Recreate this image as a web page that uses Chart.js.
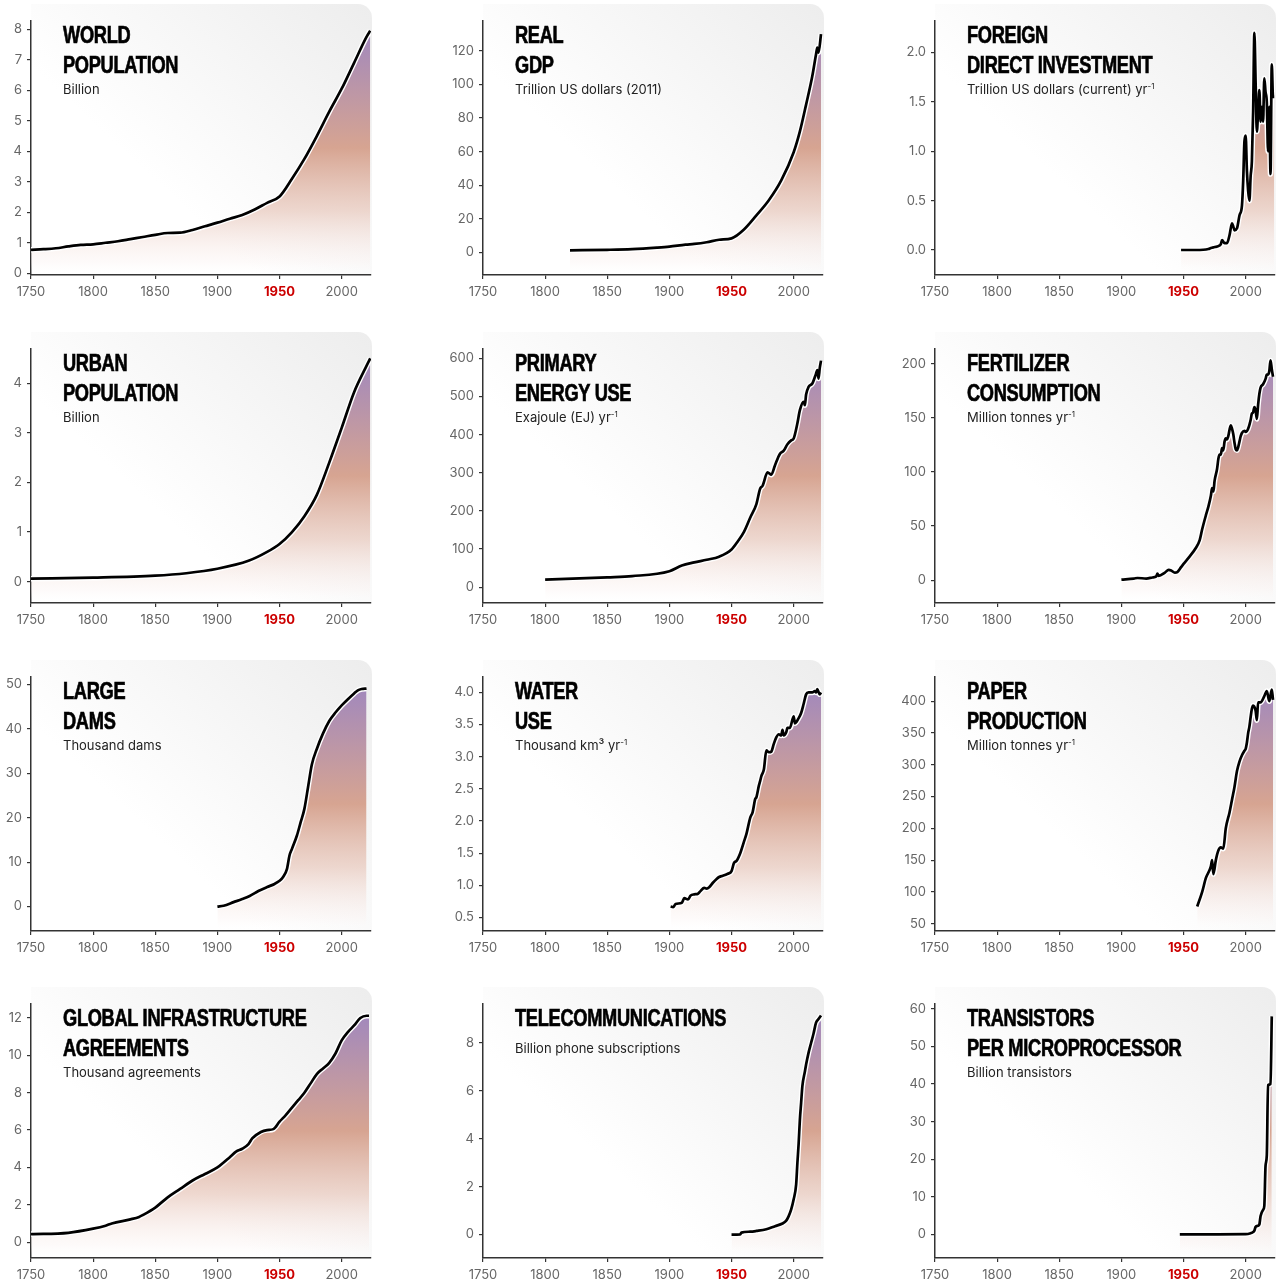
<!DOCTYPE html>
<html>
<head>
<meta charset="utf-8">
<script src="https://cdn.jsdelivr.net/npm/chart.js@4.4.1/dist/chart.umd.min.js"></script>
<style>
body{margin:0;background:#fff;width:1277px;height:1281px;overflow:hidden;position:relative;font-family:Inter,sans-serif}
canvas{position:absolute}
.ttl{position:absolute;font-family:"Liberation Sans",Arial,sans-serif;font-weight:bold;font-size:24px;line-height:30px;color:#000;letter-spacing:-0.4px;white-space:nowrap;transform:scaleX(0.76);transform-origin:0 0;-webkit-text-stroke:0.7px #000}
.sub{position:absolute;font-family:Inter,sans-serif;font-size:13px;line-height:16px;color:#222;white-space:nowrap}
.sub sup{font-size:8px;line-height:0}
</style>
</head>
<body>
<script>
// ---- data ----
var xTickLabels = ['1750', '1800', '1850', '1900', '1950', '2000'];

var popYears  = [1750, 1760, 1770, 1780, 1790, 1800, 1810, 1820, 1830, 1840, 1850, 1860, 1870, 1880, 1890, 1900, 1910, 1920, 1930, 1940, 1950, 1960, 1970, 1980, 1990, 2000, 2010, 2020, 2023];
var popValues = [0.77, 0.79, 0.82, 0.88, 0.93, 0.95, 1.0, 1.05, 1.12, 1.19, 1.26, 1.32, 1.33, 1.42, 1.54, 1.66, 1.79, 1.91, 2.09, 2.31, 2.52, 3.1, 3.75, 4.5, 5.3, 6.05, 6.9, 7.75, 7.95];
var popTicks  = ['0', '1', '2', '3', '4', '5', '6', '7', '8'];

var gdpYears  = [1820, 1850, 1870, 1890, 1900, 1913, 1920, 1930, 1940, 1950, 1960, 1970, 1980, 1990, 2000, 2005, 2010, 2015, 2018, 2019, 2020, 2022];
var gdpValues = [1.2, 1.5, 1.9, 2.8, 3.4, 4.6, 5.0, 6.0, 7.5, 8.3, 13.6, 22, 31, 42.8, 59.6, 72, 88, 105, 118, 122, 119, 130];
var gdpTicks  = ['0', '20', '40', '60', '80', '100', '120'];

var fdiYears  = [1948, 1960, 1970, 1972, 1975, 1978, 1980, 1981, 1983, 1985, 1987, 1989, 1990, 1991, 1993, 1995, 1997, 1998, 1999, 2000, 2001, 2002, 2003, 2004, 2005, 2006, 2007, 2008, 2009, 2010, 2011, 2012, 2013, 2014, 2015, 2016, 2017, 2018, 2019, 2020, 2021, 2022, 2023];
var fdiValues = [0, 0, 0.01, 0.02, 0.03, 0.04, 0.06, 0.1, 0.07, 0.07, 0.15, 0.27, 0.24, 0.2, 0.22, 0.35, 0.45, 0.7, 1.1, 1.16, 0.8, 0.6, 0.5, 0.75, 0.9, 1.4, 2.2, 1.7, 1.2, 1.4, 1.62, 1.3, 1.45, 1.3, 1.74, 1.6, 1.5, 1.0, 1.45, 0.77, 1.88, 1.55, 1.55];
var fdiTicks  = ['0.0', '0.5', '1.0', '1.5', '2.0'];

var urbanYears  = [1750, 1800, 1850, 1875, 1900, 1925, 1940, 1950, 1960, 1970, 1980, 1990, 2000, 2010, 2020, 2023];
var urbanValues = [0.06, 0.08, 0.12, 0.17, 0.26, 0.42, 0.6, 0.76, 1.0, 1.32, 1.75, 2.4, 3.1, 3.82, 4.35, 4.5];
var urbanTicks  = ['0', '1', '2', '3', '4'];

var energyYears  = [1800, 1850, 1870, 1900, 1910, 1920, 1930, 1940, 1950, 1955, 1960, 1965, 1970, 1973, 1975, 1979, 1982, 1985, 1989, 1992, 1995, 1998, 2000, 2003, 2005, 2008, 2009, 2010, 2012, 2015, 2018, 2019, 2020, 2021, 2022];
var energyValues = [20, 26, 29, 42, 57, 65, 72, 80, 99, 120, 145, 182, 218, 258, 266, 301, 295, 320, 350, 358, 375, 385, 390, 430, 464, 486, 477, 505, 525, 534, 560, 569, 547, 575, 594];
var energyTicks  = ['0', '100', '200', '300', '400', '500', '600'];

var fertYears  = [1900, 1910, 1913, 1920, 1925, 1928, 1929, 1930, 1935, 1938, 1940, 1943, 1945, 1948, 1950, 1955, 1960, 1963, 1965, 1968, 1970, 1972, 1973, 1974, 1975, 1977, 1978, 1979, 1980, 1981, 1982, 1983, 1984, 1985, 1986, 1988, 1989, 1990, 1991, 1992, 1993, 1994, 1995, 1996, 1997, 1999, 2000, 2002, 2004, 2005, 2006, 2007, 2008, 2009, 2010, 2011, 2012, 2014, 2016, 2017, 2018, 2019, 2020, 2021, 2022];
var fertValues = [0.5, 1.5, 2, 1.5, 2.5, 3.5, 6, 4, 7, 9.5, 9, 7, 7.5, 12, 15, 22, 30, 37, 47, 60, 68, 78, 85, 82, 92, 103, 112, 116, 116, 122, 120, 128, 131, 130, 133, 143, 140, 135, 127, 121, 120, 123, 128, 133, 136, 138, 137, 140, 148, 154, 155, 160, 157, 149, 162, 172, 178, 181, 186, 190, 190, 193, 203, 195, 188];
var fertTicks  = ['0', '50', '100', '150', '200'];

var damYears  = [1900, 1905, 1913, 1920, 1926, 1933, 1940, 1946, 1950, 1953, 1956, 1958, 1960, 1964, 1967, 1970, 1973, 1976, 1980, 1985, 1990, 1995, 2000, 2005, 2010, 2013, 2016, 2020];
var damValues = [0, 0.2, 1.0, 1.7, 2.4, 3.5, 4.4, 5.1, 5.8, 6.7, 8.5, 11.5, 13, 16, 19, 22, 27, 32, 35.5, 39, 41.8, 43.7, 45.3, 46.7, 48, 48.7, 49, 49.1];
var damTicks  = ['0', '10', '20', '30', '40', '50'];

var waterYears  = [1901, 1903, 1905, 1910, 1912, 1915, 1917, 1920, 1923, 1925, 1928, 1930, 1932, 1935, 1938, 1940, 1943, 1947, 1950, 1952, 1954, 1957, 1960, 1962, 1965, 1967, 1969, 1970, 1972, 1973, 1974, 1976, 1978, 1980, 1982, 1984, 1986, 1988, 1990, 1991, 1992, 1994, 1995, 1997, 2000, 2001, 2004, 2006, 2008, 2010, 2012, 2015, 2017, 2018, 2019, 2021, 2022];
var waterValues = [0.67, 0.66, 0.71, 0.73, 0.8, 0.78, 0.84, 0.86, 0.87, 0.91, 0.96, 0.95, 0.97, 1.04, 1.1, 1.13, 1.15, 1.18, 1.22, 1.35, 1.38, 1.5, 1.68, 1.8, 2.05, 2.14, 2.34, 2.37, 2.55, 2.62, 2.7, 2.8, 3.1, 3.07, 3.08, 3.2, 3.3, 3.35, 3.33, 3.42, 3.33, 3.38, 3.45, 3.45, 3.63, 3.52, 3.6, 3.68, 3.82, 3.97, 4.0, 4.0, 4.02, 4.0, 4.05, 3.97, 4.0];
var waterTicks  = ['0.5', '1.0', '1.5', '2.0', '2.5', '3.0', '3.5', '4.0'];

var paperYears  = [1961, 1965, 1968, 1972, 1973, 1974, 1976, 1978, 1980, 1982, 1984, 1987, 1989, 1991, 1993, 1995, 1997, 1999, 2000, 2001, 2002, 2003, 2004, 2005, 2006, 2008, 2009, 2010, 2012, 2015, 2017, 2019, 2021, 2022];
var paperValues = [77, 100, 122, 140, 150, 128, 150, 165, 170, 168, 200, 225, 245, 265, 290, 305, 315, 322, 325, 335, 350, 360, 375, 388, 393, 385, 370, 398, 398, 408, 416, 400, 418, 402];
var paperTicks  = ['50', '100', '150', '200', '250', '300', '350', '400'];

var infraYears  = [1750, 1780, 1800, 1810, 1815, 1830, 1837, 1840, 1850, 1860, 1870, 1880, 1890, 1900, 1910, 1915, 1920, 1925, 1928, 1935, 1940, 1945, 1950, 1955, 1960, 1965, 1970, 1975, 1980, 1985, 1990, 1995, 2000, 2005, 2010, 2015, 2020, 2022];
var infraValues = [0.43, 0.5, 0.72, 0.88, 1.0, 1.22, 1.35, 1.45, 1.85, 2.4, 2.85, 3.3, 3.65, 4.0, 4.55, 4.85, 5.0, 5.25, 5.55, 5.9, 6.0, 6.05, 6.45, 6.8, 7.2, 7.6, 8.0, 8.5, 9.0, 9.3, 9.6, 10.1, 10.8, 11.25, 11.6, 12.0, 12.12, 12.12];
var infraTicks  = ['0', '2', '4', '6', '8', '10', '12'];

var telYears  = [1950, 1957, 1958, 1965, 1970, 1978, 1985, 1991, 1994, 1996, 1998, 2000, 2002, 2003, 2004, 2005, 2006, 2007, 2009, 2010, 2012, 2014, 2016, 2018, 2020, 2022];
var telValues = [0, 0.01, 0.08, 0.12, 0.15, 0.22, 0.35, 0.46, 0.58, 0.77, 1.05, 1.47, 2.1, 3.0, 3.8, 4.8, 5.5, 6.2, 6.8, 7.1, 7.6, 8.0, 8.4, 8.85, 9.0, 9.15];
var telTicks  = ['0', '2', '4', '6', '8'];

var transYears  = [1947, 1971, 2000, 2004, 2006, 2007, 2008, 2010, 2011, 2012, 2014, 2015, 2016, 2017, 2018, 2020, 2021];
var transValues = [0, 0, 0.04, 0.3, 0.6, 1.0, 2.0, 2.3, 2.6, 4.9, 6.5, 7.6, 18.3, 21, 39.7, 40, 58];
var transTicks  = ['0', '10', '20', '30', '40', '50', '60'];

// ---- panels ----
var panels = [
  {title: ['WORLD', 'POPULATION'], sub: 'Billion', years: popYears, values: popValues, ticks: popTicks, min: -0.056, max: 8.27},
  {title: ['REAL', 'GDP'], sub: 'Trillion US dollars (2011)', years: gdpYears, values: gdpValues, ticks: gdpTicks, min: -13.5, max: 137.8},
  {title: ['FOREIGN', 'DIRECT INVESTMENT'], sub: 'Trillion US dollars (current) yr<sup>-1</sup>', years: fdiYears, values: fdiValues, ticks: fdiTicks, min: -0.253, max: 2.32},
  {title: ['URBAN', 'POPULATION'], sub: 'Billion', years: urbanYears, values: urbanValues, ticks: urbanTicks, min: -0.43, max: 4.69},
  {title: ['PRIMARY', 'ENERGY USE'], sub: 'Exajoule (EJ) yr<sup>-1</sup>', years: energyYears, values: energyValues, ticks: energyTicks, min: -41.4, max: 624.5},
  {title: ['FERTILIZER', 'CONSUMPTION'], sub: 'Million tonnes yr<sup>-1</sup>', years: fertYears, values: fertValues, ticks: fertTicks, min: -21.1, max: 213.6},
  {title: ['LARGE', 'DAMS'], sub: 'Thousand dams', years: damYears, values: damValues, ticks: damTicks, min: -5.5, max: 51.7},
  {title: ['WATER', 'USE'], sub: 'Thousand km³ yr<sup>-1</sup>', years: waterYears, values: waterValues, ticks: waterTicks, min: 0.29, max: 4.24},
  {title: ['PAPER', 'PRODUCTION'], sub: 'Million tonnes yr<sup>-1</sup>', years: paperYears, values: paperValues, ticks: paperTicks, min: 38.5, max: 438},
  {title: ['GLOBAL INFRASTRUCTURE', 'AGREEMENTS'], sub: 'Thousand agreements', years: infraYears, values: infraValues, ticks: infraTicks, min: -0.85, max: 12.75},
  {title: ['TELECOMMUNICATIONS'], sub: 'Billion phone subscriptions', years: telYears, values: telValues, ticks: telTicks, min: -0.98, max: 9.63},
  {title: ['TRANSISTORS', 'PER MICROPROCESSOR'], sub: 'Billion transistors', years: transYears, values: transValues, ticks: transTicks, min: -6.3, max: 61.3}
];

var axisX = [31, 483, 935];
var rowTop = [0, 328, 656, 983];
var yAxisW = 35;

// grey corner panel behind each plot
var panelBg = {
  id: 'panelBg',
  beforeDraw: function(chart) {
    var a = chart.chartArea, c = chart.ctx;
    var top = a.top - 17, w = a.right - a.left, h = a.bottom - top;
    var g = c.createLinearGradient(a.right, top, a.right - w * 0.55, top + h * 0.75);
    g.addColorStop(0, '#ededed');
    g.addColorStop(1, '#ffffff');
    c.save();
    c.fillStyle = g;
    c.beginPath();
    c.roundRect(a.left, top, w + 1, h, [0, 14, 0, 0]);
    c.fill();
    c.restore();
  }
};

function areaFill(ctx) {
  var a = ctx.chart.chartArea;
  if (!a) return 'rgba(0,0,0,0)';
  var g = ctx.chart.ctx.createLinearGradient(0, a.top, 0, a.bottom);
  g.addColorStop(0, 'rgba(152,128,190,0.95)');
  g.addColorStop(0.5, 'rgba(213,160,140,0.95)');
  g.addColorStop(0.75, 'rgba(232,200,188,0.7)');
  g.addColorStop(0.95, 'rgba(250,240,238,0.3)');
  g.addColorStop(1, 'rgba(255,255,255,0)');
  return g;
}

panels.forEach(function(p, i) {
  var col = i % 3, row = Math.floor(i / 3);
  var cv = document.createElement('canvas');
  cv.width = 383; cv.height = 300;
  cv.style.left = (axisX[col] - yAxisW) + 'px';
  cv.style.top = rowTop[row] + 'px';
  document.body.appendChild(cv);

  var t = document.createElement('div');
  t.className = 'ttl';
  t.style.left = (axisX[col] + 32) + 'px';
  t.style.top = (rowTop[row] + 20) + 'px';
  t.innerHTML = p.title.join('<br>');
  document.body.appendChild(t);

  var s = document.createElement('div');
  s.className = 'sub';
  s.style.left = (axisX[col] + 32) + 'px';
  s.style.top = (rowTop[row] + (p.title.length > 1 ? 81 : 57)) + 'px';
  s.innerHTML = p.sub;
  document.body.appendChild(s);

  var pts = p.years.map(function(y, k) { return {x: y, y: p.values[k]}; });

  new Chart(cv, {
    type: 'line',
    data: {
      datasets: [{
        data: pts,
        borderColor: '#000',
        borderWidth: 2.7,
        fill: false,
        pointRadius: 0,
        cubicInterpolationMode: 'monotone'
      }, {
        data: pts,
        borderColor: '#fff',
        borderWidth: 5.5,
        backgroundColor: areaFill,
        fill: 'start',
        pointRadius: 0,
        cubicInterpolationMode: 'monotone'
      }]
    },
    options: {
      responsive: false,
      animation: false,
      events: [],
      layout: {padding: {top: 21, right: 8, left: 0, bottom: 0}},
      plugins: {legend: {display: false}, tooltip: {enabled: false}},
      scales: {
        x: {
          type: 'linear',
          min: 1750,
          max: 2023.6,
          afterBuildTicks: function(sc) {
            sc.ticks = xTickLabels.map(function(v) { return {value: +v}; });
          },
          afterFit: function(sc) { sc.height = 25; },
          grid: {drawOnChartArea: false, drawTicks: true, tickLength: 4, color: '#333', lineWidth: 1.2},
          border: {color: '#333', width: 1.5},
          ticks: {
            autoSkip: false,
            maxRotation: 0,
            padding: 5,
            callback: function(v, k) { return xTickLabels[k]; },
            color: function(c) { return c.tick && c.tick.value === 1950 ? '#cc0000' : '#666'; },
            font: function(c) {
              return c.tick && c.tick.value === 1950 ?
                {family: 'Inter', size: 13, weight: 'bold'} : {family: 'Inter', size: 13};
            }
          }
        },
        y: {
          min: p.min,
          max: p.max,
          afterBuildTicks: function(sc) {
            sc.ticks = p.ticks.map(function(v) { return {value: parseFloat(v)}; });
          },
          afterFit: function(sc) { sc.width = yAxisW; },
          grid: {drawOnChartArea: false, drawTicks: true, tickLength: 4, color: '#333', lineWidth: 1.2},
          border: {color: '#333', width: 1.5},
          ticks: {
            autoSkip: false,
            padding: 5,
            color: '#666',
            font: {family: 'Inter', size: 13},
            callback: function(v, k) { return p.ticks[k]; }
          }
        }
      }
    },
    plugins: [panelBg]
  });
});
</script>
</body>
</html>
